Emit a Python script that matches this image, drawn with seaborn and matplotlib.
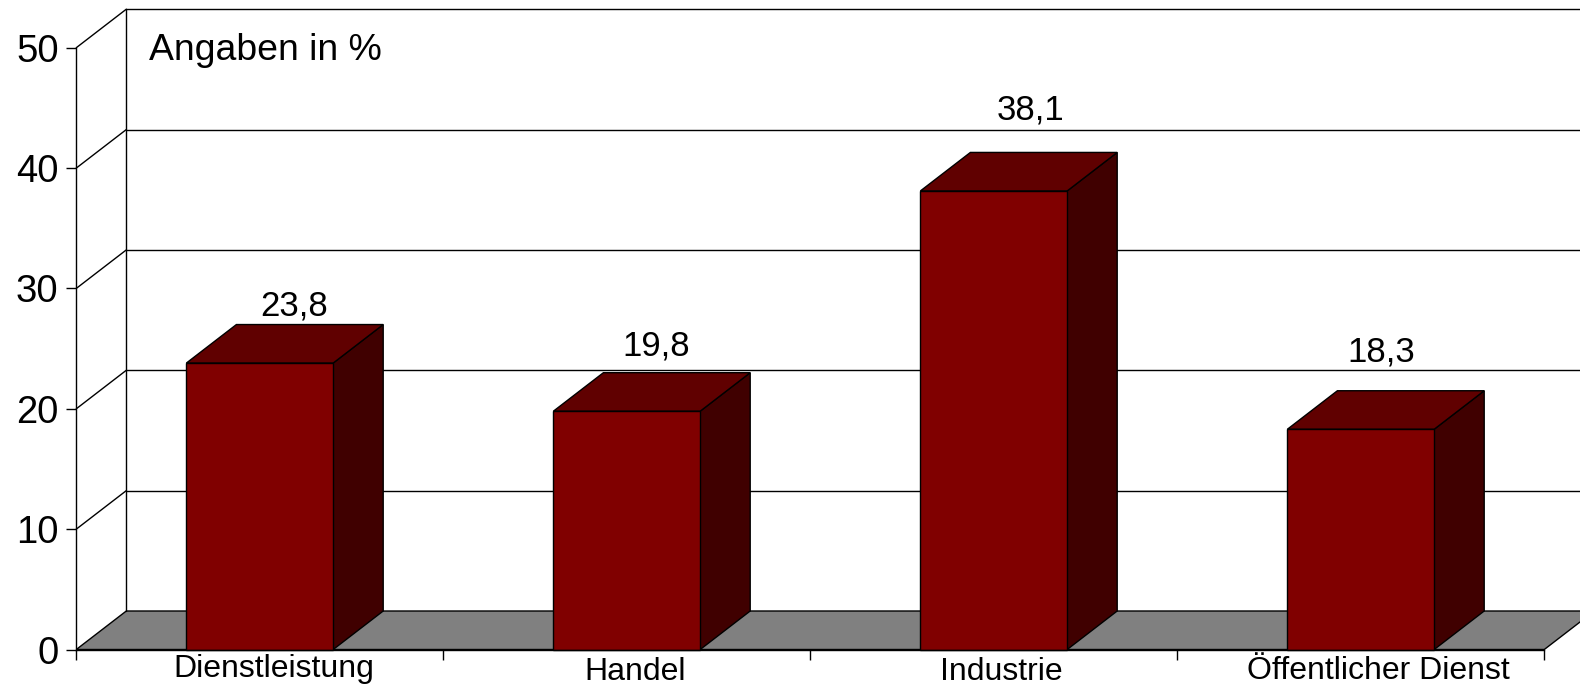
import matplotlib
matplotlib.use("Agg")
import matplotlib.pyplot as plt
from matplotlib.patches import Polygon
import seaborn as sns

categories = ["Dienstleistung", "Handel", "Industrie", "Öffentlicher Dienst"]
values = [23.8, 19.8, 38.1, 18.3]
value_labels = ["23,8", "19,8", "38,1", "18,3"]
y_ticks = [0, 10, 20, 30, 40, 50]

# label placement, in pixels from the front-top-centre of each bar / from the axis
value_offsets = [(34, 57), (29, 65), (37, 81), (20, 77.5)]
category_offsets = [(14, -19.5), (8, -22.5), (8, -22.5), (18, -21.5)]

W, H = 1580, 685
LEFT, RIGHT, Y0, Y50 = 76.3, 1544.3, 649.5, 47.7
DEPTH_PX = (50, 38.5)
BAR_WIDTH = 0.4
LW = 1.0

sns.set_style("white")
plt.rcParams["font.family"] = ["Liberation Sans", "DejaVu Sans"]

fig = plt.figure(figsize=(W / 100, H / 100), dpi=100, facecolor="white")
ax = fig.add_axes([LEFT / W, 1 - Y0 / H, (RIGHT - LEFT) / W, (Y0 - Y50) / H])
ax.patch.set_alpha(0)

sns.barplot(x=categories, y=values, color="#800000", saturation=1, width=BAR_WIDTH,
            edgecolor="black", linewidth=LW, ax=ax, zorder=5, clip_on=False)

ax.set_xlim(-0.5, 3.5)
ax.set_ylim(0, 50)
dx = DEPTH_PX[0] * 4 / (RIGHT - LEFT)
dy = DEPTH_PX[1] * 50 / (Y0 - Y50)
x0, x1 = -0.5, 3.5

# floor
ax.add_patch(Polygon([(x0, 0), (x1, 0), (x1 + dx, dy), (x0 + dx, dy)], closed=True,
                     facecolor="#808080", edgecolor="black", lw=LW, zorder=1, clip_on=False))

# back wall and left wall
for v in y_ticks[1:]:
    ax.plot([x0 + dx, x1 + dx], [v + dy, v + dy], color="black", lw=LW, zorder=2, clip_on=False)
    ax.plot([x0, x0 + dx], [v, v + dy], color="black", lw=LW, zorder=2, clip_on=False)
ax.plot([x0 + dx, x0 + dx], [dy, 50 + dy], color="black", lw=LW, zorder=2, clip_on=False)

# bar side and top faces
for i, v in enumerate(values):
    l, r = i - BAR_WIDTH / 2, i + BAR_WIDTH / 2
    ax.add_patch(Polygon([(r, 0), (r + dx, dy), (r + dx, v + dy), (r, v)], closed=True,
                         facecolor="#400000", edgecolor="black", lw=LW, zorder=4, clip_on=False))
    ax.add_patch(Polygon([(l, v), (r, v), (r + dx, v + dy), (l + dx, v + dy)], closed=True,
                         facecolor="#600000", edgecolor="black", lw=LW, zorder=4, clip_on=False))
    ax.annotate(value_labels[i], xy=(i, v), xytext=value_offsets[i], textcoords="offset pixels",
                ha="center", va="center", fontsize=25, color="black", zorder=7,
                annotation_clip=False)
    ax.annotate(categories[i], xy=(i, 0), xytext=category_offsets[i], textcoords="offset pixels",
                ha="center", va="center", fontsize=23, color="black", zorder=7,
                annotation_clip=False)

# axes
for s in ["top", "right"]:
    ax.spines[s].set_visible(False)
for s in ["left", "bottom"]:
    ax.spines[s].set_visible(True)
    ax.spines[s].set_color("black")
    ax.spines[s].set_linewidth(LW)
    ax.spines[s].set_zorder(6)
ax.set_yticks(y_ticks)
ax.set_yticklabels([str(t) for t in y_ticks], fontsize=27.5, color="black")
ax.set_xticks([x0 + k for k in range(5)])
ax.set_xticklabels([])
ax.tick_params(axis="both", which="major", length=7.2, width=LW, color="black",
               left=True, bottom=True, pad=5.5)
ax.set_xlabel("")
ax.set_ylabel("")

fig.text(149 / W, 1 - 50.5 / H, "Angaben in %", fontsize=26.9, color="black", ha="left", va="center")

fig.savefig("out.png", dpi=100, facecolor="white")
